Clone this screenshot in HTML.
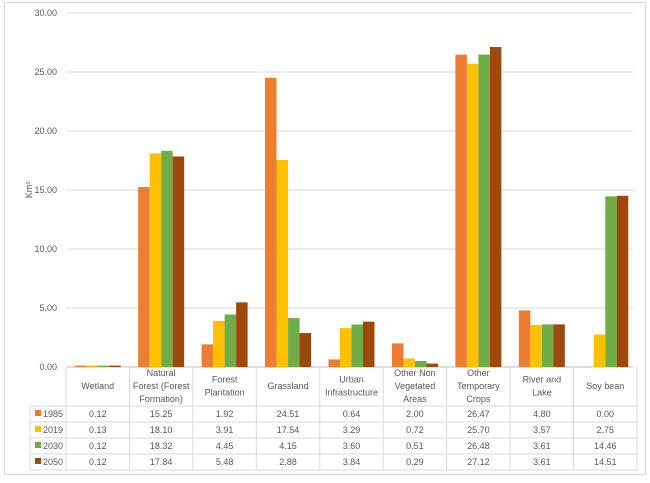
<!DOCTYPE html>
<html><head><meta charset="utf-8"><style>
body{margin:0;background:#fff;}
svg text{font-family:"Liberation Sans",sans-serif;fill:#595959;}
</style></head><body>
<svg width="650" height="478" viewBox="0 0 650 478">
<rect x="4.5" y="2.5" width="641" height="472" fill="#fff" stroke="#d9d9d9"/>
<g id="grid"></g><g id="bars"></g><g id="table"></g>
<text transform="translate(32,190) rotate(-90)" font-size="9" text-anchor="middle">Km²</text>
</svg>
<script>
const categories=[["Wetland"],["Natural","Forest (Forest","Formation)"],["Forest","Plantation"],["Grassland"],["Urban","Infrastructure"],["Other Non","Vegetated","Areas"],["Other","Temporary","Crops"],["River and","Lake"],["Soy bean"]];
const seriesNames=["1985","2019","2030","2050"];
const s1985=[0.12,15.25,1.92,24.51,0.64,2.00,26.47,4.80,0.00];
const s2019=[0.13,18.10,3.91,17.54,3.29,0.72,25.70,3.57,2.75];
const s2030=[0.12,18.32,4.45,4.15,3.60,0.51,26.48,3.61,14.46];
const s2050=[0.12,17.84,5.48,2.88,3.84,0.29,27.12,3.61,14.51];
const yTicks=[0,5,10,15,20,25,30];
const series=[s1985,s2019,s2030,s2050];
const colors=["#ED7D31","#FFC000","#70AD47","#9E480E"];
const NS="http://www.w3.org/2000/svg";
const x0=66,x1=637,yb=367,yt=13,ymax=30;
const cw=(x1-x0)/categories.length;
const y=v=>yb-(v/ymax)*(yb-yt);
const xc=i=>x0+cw*i;
function mk(tag,attrs,parent){const e=document.createElementNS(NS,tag);for(const k in attrs)e.setAttribute(k,attrs[k]);parent.appendChild(e);return e;}
const grid=document.getElementById('grid'),bars=document.getElementById('bars'),table=document.getElementById('table');
yTicks.forEach(t=>{
 const l=mk('line',{x1:x0,x2:633,y1:y(t),y2:y(t),stroke:t===0?'#bfbfbf':'#d9d9d9','stroke-width':1},grid);
 
 
 const tx=mk('text',{x:57,y:y(t)+3,'font-size':9,'text-anchor':'end'},grid);
 tx.textContent=t.toFixed(2);
 
 
});
const bw=11.5,gw=bw*4;
series.forEach((s,si)=>{
 s.forEach((v,i)=>{
  const bx=xc(i)+(cw-gw)/2+si*bw;
  const r=mk('rect',{x:bx,y:y(v),width:bw,height:yb-y(v),fill:colors[si]},bars);
  
  
 });
});
// table
const rowTop=[406,422,438,454],rowH=16,tl=30;
const lc='#d9d9d9';
[406,422,438,454,470].forEach(yy=>mk('line',{x1:tl,x2:x1,y1:yy,y2:yy,stroke:lc},table));
mk('line',{x1:tl,x2:tl,y1:406,y2:470,stroke:lc},table);
for(let i=0;i<=categories.length;i++){mk('line',{x1:xc(i),x2:xc(i),y1:367,y2:470,stroke:lc},table);}
categories.forEach((c,i)=>{
 const n=c.length,cy=386-(n-1)*6.5;
 c.forEach((ln,k)=>{
  const t=mk('text',{x:xc(i)+cw/2,y:cy+k*13+3,'font-size':9,'text-anchor':'middle'},table);
  t.textContent=ln;
  
  
 });
});
series.forEach((s,si)=>{
 const ry=rowTop[si]+rowH/2+3;
 const sw=mk('rect',{x:35,y:ry-7,width:6,height:6,fill:colors[si]},table);
 
 
 const lt=mk('text',{x:43,y:ry,'font-size':9},table);
 lt.textContent=seriesNames[si];
 
 
 s.forEach((v,i)=>{
  const t=mk('text',{x:xc(i)+cw/2,y:ry,'font-size':9,'text-anchor':'middle'},table);
  t.textContent=v.toFixed(2);
  
  
 });
});
</script>
</body></html>
